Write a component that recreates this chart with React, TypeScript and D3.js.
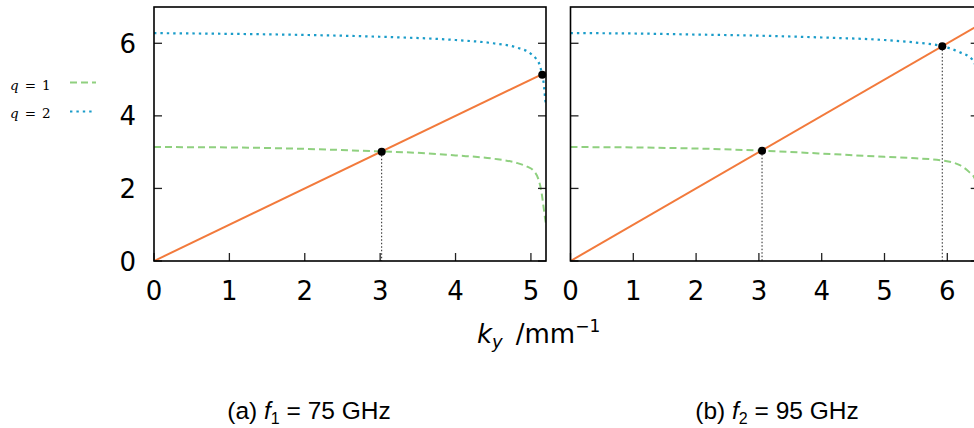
import React from 'react';
import * as d3 from 'd3';

const W = 974;
const H = 428;

const yTicks = [0, 2, 4, 6];
const leftXTicks = [0, 1, 2, 3, 4, 5];
const rightXTicks = [0, 1, 2, 3, 4, 5, 6];
const leftXMax = 5.2;
const rightXMax = 6.5;
const yMax = 7;

// q = 1 (green), left panel f1 = 75 GHz
const leftQ1X = [0, 1, 2, 3, 3.5, 4, 4.5, 4.8, 4.95, 5.03, 5.1, 5.14, 5.17, 5.19, 5.2];
const leftQ1Y = [3.14, 3.13, 3.09, 3.02, 2.98, 2.91, 2.82, 2.71, 2.6, 2.5, 2.25, 1.9, 1.45, 1.15, 1.03];
// q = 2 (blue), left panel
const leftQ2X = [0, 1, 2, 3, 4, 4.5, 4.8, 5.0, 5.07, 5.12, 5.15, 5.17, 5.19, 5.2];
const leftQ2Y = [6.28, 6.26, 6.23, 6.18, 6.09, 6.0, 5.89, 5.71, 5.57, 5.38, 5.12, 4.89, 4.45, 4.29];
// q = 1 (green), right panel f2 = 95 GHz
const rightQ1X = [0, 1, 2, 3.05, 4, 5, 5.5, 5.92, 6.2, 6.35, 6.43, 6.47, 6.49, 6.5];
const rightQ1Y = [3.14, 3.13, 3.1, 3.04, 2.96, 2.87, 2.83, 2.77, 2.64, 2.45, 2.3, 1.9, 1.4, 1.05];
// q = 2 (blue), right panel
const rightQ2X = [0, 1, 2, 3, 4, 5, 5.5, 5.92, 6.2, 6.4, 6.45, 6.48, 6.5];
const rightQ2Y = [6.28, 6.27, 6.24, 6.21, 6.16, 6.09, 6.02, 5.92, 5.75, 5.55, 5.35, 4.9, 4.3];
// straight line (orange)
const leftLineX = [0, 5.2];
const leftLineY = [0, 5.2];
const rightLineX = [0, 6.5];
const rightLineY = [0, 6.5];
// intersection points
const leftDotsX = [3.02, 5.15];
const leftDotsY = [3.01, 5.13];
const rightDotsX = [3.05, 5.92];
const rightDotsY = [3.04, 5.92];
const leftDrop = [true, false];
const rightDrop = [true, true];

const captions = ['75', '95'];

const GREEN = '#8fd07f';
const BLUE = '#1a9cc9';
const ORANGE = '#f27a3c';

const TOP = 7;
const BOTTOM = 261;

type PanelDef = {
  id: string;
  x0: number;
  x1: number;
  xMax: number;
  ticks: number[];
  q1: [number[], number[]];
  q2: [number[], number[]];
  line: [number[], number[]];
  dots: [number[], number[]];
  drop: boolean[];
  yLabels: boolean;
};

const panels: PanelDef[] = [
  {
    id: 'a', x0: 154, x1: 546, xMax: leftXMax, ticks: leftXTicks,
    q1: [leftQ1X, leftQ1Y], q2: [leftQ2X, leftQ2Y], line: [leftLineX, leftLineY],
    dots: [leftDotsX, leftDotsY], drop: leftDrop, yLabels: true,
  },
  {
    id: 'b', x0: 570.5, x1: 978.7, xMax: rightXMax, ticks: rightXTicks,
    q1: [rightQ1X, rightQ1Y], q2: [rightQ2X, rightQ2Y], line: [rightLineX, rightLineY],
    dots: [rightDotsX, rightDotsY], drop: rightDrop, yLabels: false,
  },
];

const TICKFONT = "'DejaVu Sans', sans-serif";
const CAPFONT = "'Liberation Sans', Arial, sans-serif";

function Panel({ p }: { p: PanelDef }) {
  const x = d3.scaleLinear().domain([0, p.xMax]).range([p.x0, p.x1]);
  const y = d3.scaleLinear().domain([0, yMax]).range([BOTTOM, TOP]);
  const gen = d3
    .line<[number, number]>()
    .x((d) => x(d[0]))
    .y((d) => y(d[1]))
    .curve(d3.curveMonotoneX);
  const pts = (s: [number[], number[]]) => s[0].map((v, i) => [v, s[1][i]] as [number, number]);
  const clipId = `clip-${p.id}`;
  return (
    <g>
      <defs>
        <clipPath id={clipId}>
          <rect x={p.x0} y={TOP} width={p.x1 - p.x0} height={BOTTOM - TOP} />
        </clipPath>
      </defs>
      <g clipPath={`url(#${clipId})`}>
        {p.dots[0].map((dx, i) =>
          p.drop[i] ? (
            <line key={i} x1={x(dx)} x2={x(dx)} y1={y(p.dots[1][i])} y2={BOTTOM}
              stroke="#222" strokeWidth={1} strokeDasharray="1.5,2" />
          ) : null
        )}
        <path d={gen(pts(p.q1)) || ''} fill="none" stroke={GREEN} strokeWidth={2} strokeDasharray="7,4" />
        <path d={gen(pts(p.q2)) || ''} fill="none" stroke={BLUE} strokeWidth={2.2} strokeDasharray="2.4,4" />
        <path d={gen(pts(p.line)) || ''} fill="none" stroke={ORANGE} strokeWidth={2} />
      </g>
      {p.ticks.map((t) => (
        <g key={t}>
          <line x1={x(t)} x2={x(t)} y1={BOTTOM} y2={BOTTOM - 8} stroke="#222" strokeWidth={1.3} />
          <text x={x(t)} y={300} textAnchor="middle" fontFamily={TICKFONT} fontSize={26} fill="#000">{t}</text>
        </g>
      ))}
      {yTicks.map((t) => (
        <g key={t}>
          <line x1={p.x0} x2={p.x0 + 8} y1={y(t)} y2={y(t)} stroke="#222" strokeWidth={1.3} />
          <line x1={p.x1 - 8} x2={p.x1} y1={y(t)} y2={y(t)} stroke="#222" strokeWidth={1.3} />
          {p.yLabels ? (
            <text x={136} y={y(t) + 9.5} textAnchor="end" fontFamily={TICKFONT} fontSize={26} fill="#000">{t}</text>
          ) : null}
        </g>
      ))}
      <rect x={p.x0} y={TOP} width={p.x1 - p.x0} height={BOTTOM - TOP} fill="none" stroke="#000" strokeWidth={1.6} />
      {p.dots[0].map((dx, i) => (
        <circle key={i} cx={x(dx)} cy={y(p.dots[1][i])} r={4} fill="#000" />
      ))}
    </g>
  );
}

export default function App() {
  return (
    <svg width={W} height={H} viewBox={`0 0 ${W} ${H}`}
      style={{ position: 'absolute', left: 0, top: 0, background: '#fff' }}>
      <rect x={0} y={0} width={W} height={H} fill="#fff" />
      {panels.map((p) => (
        <Panel key={p.id} p={p} />
      ))}
      {/* legend */}
      <g fontFamily="'DejaVu Serif', serif" fontSize={13.5} fill="#000">
        <text x={10} y={90}>
          <tspan fontStyle="italic">q</tspan>
          <tspan dx={6}>=</tspan>
          <tspan dx={6}>1</tspan>
        </text>
        <text x={10} y={118}>
          <tspan fontStyle="italic">q</tspan>
          <tspan dx={6}>=</tspan>
          <tspan dx={6}>2</tspan>
        </text>
      </g>
      <line x1={70} x2={96} y1={82.5} y2={82.5} stroke={GREEN} strokeWidth={2} strokeDasharray="7,4" />
      <line x1={70} x2={94} y1={111.5} y2={111.5} stroke={BLUE} strokeWidth={2.2} strokeDasharray="2.4,4" />
      {/* axis label */}
      <text x={477} y={343} fontFamily={TICKFONT} fontSize={26} fill="#000">
        <tspan fontStyle="italic">k</tspan>
        <tspan fontStyle="italic" fontSize={18} dy={5}>y</tspan>
        <tspan dy={-5} dx={13}>/mm</tspan>
        <tspan fontSize={17} dy={-11}>−1</tspan>
      </text>
      {/* captions */}
      {captions.map((c, i) => (
        <text key={c} x={i === 0 ? 309 : 777} y={419} textAnchor="middle" fontFamily={CAPFONT} fontSize={24.5} fill="#000">
          <tspan>{i === 0 ? '(a) ' : '(b) '}</tspan>
          <tspan fontStyle="italic">f</tspan>
          <tspan fontSize={16} dy={5}>{i + 1}</tspan>
          <tspan dy={-5}>{' = '}</tspan>
          <tspan>{`${c} GHz`}</tspan>
        </text>
      ))}
    </svg>
  );
}
